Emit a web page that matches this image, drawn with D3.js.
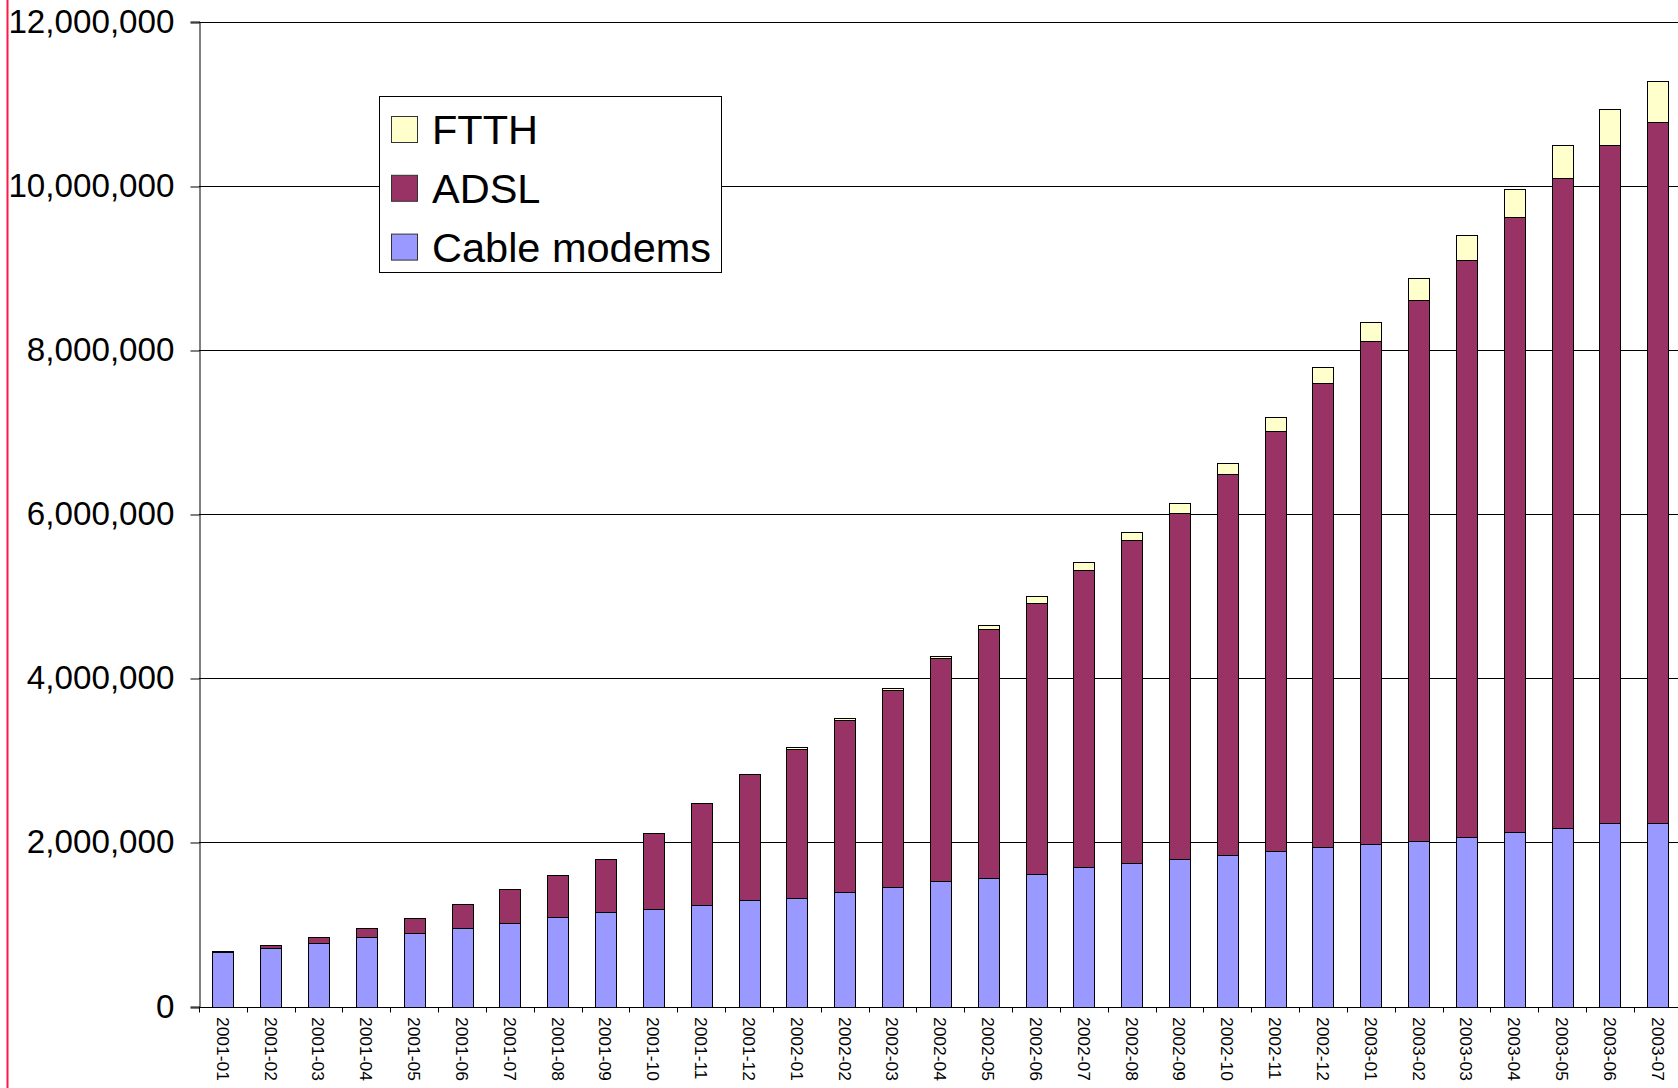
<!DOCTYPE html>
<html>
<head>
<meta charset="utf-8">
<script src="https://cdn.jsdelivr.net/npm/d3@7"></script>
<style>
  html, body { margin: 0; padding: 0; background: #fff; }
  svg { display: block; font-family: "Liberation Sans", Arial, sans-serif; }
</style>
</head>
<body>
<svg id="chart" width="1678" height="1088"></svg>
<script>
// ---- data ----
const months = [
  "2001-01","2001-02","2001-03","2001-04","2001-05","2001-06","2001-07","2001-08","2001-09","2001-10","2001-11","2001-12",
  "2002-01","2002-02","2002-03","2002-04","2002-05","2002-06","2002-07","2002-08","2002-09","2002-10","2002-11","2002-12",
  "2003-01","2003-02","2003-03","2003-04","2003-05","2003-06","2003-07"
];
const cableModems = [
  659000, 711000, 768000, 846000, 898000, 959000, 1012000, 1089000, 1146000, 1187000, 1242000, 1303000,
  1322000, 1395000, 1452000, 1525000, 1565000, 1618000, 1695000, 1752000, 1792000, 1849000, 1889000, 1942000,
  1978000, 2019000, 2060000, 2130000, 2170000, 2230000, 2230000
];
const adsl = [
  16000, 37000, 78000, 113000, 175000, 285000, 423000, 517000, 647000, 931000, 1235000, 1531000,
  1815000, 2095000, 2398000, 2715000, 3035000, 3301000, 3621000, 3929000, 4224000, 4640000, 5123000, 5657000,
  6131000, 6585000, 7029000, 7490000, 7920000, 8260000, 8540000
];
const ftth = [
  0, 0, 0, 0, 0, 0, 0, 0, 0, 0, 0, 0,
  21000, 24000, 25000, 31000, 43000, 85000, 97000, 97000, 118000, 134000, 174000, 191000,
  231000, 266000, 308000, 340000, 400000, 450000, 500000
];
const seriesNames = ["Cable modems", "ADSL", "FTTH"];
const seriesColors = ["#9999FF", "#993366", "#FFFFCC"];
const yTicks = [0, 2000000, 4000000, 6000000, 8000000, 10000000, 12000000];
const legendOrder = ["FTTH", "ADSL", "Cable modems"];

// ---- build ----
(function () {
const svg = d3.select("#chart");
const pLeft = 199, pRight = 1681.7, pTop = 21.5, pBottom = 1006.5;

const table = months.map((m, i) => ({
  month: m, "Cable modems": cableModems[i], "ADSL": adsl[i], "FTTH": ftth[i]
}));
const stacked = d3.stack().keys(seriesNames)(table);

const x = d3.scaleBand().domain(months).range([pLeft, pRight])
  .paddingInner(0.561).paddingOuter(0.2805);
const y = d3.scaleLinear().domain([0, 12000000]).range([pBottom, pTop]);
const color = d3.scaleOrdinal().domain(seriesNames).range(seriesColors);

// red edge line
svg.append("line").attr("x1", 7.5).attr("x2", 7.5).attr("y1", 0).attr("y2", 1088)
  .attr("stroke", "#ff1744").attr("stroke-width", 2);

// gridlines
svg.append("g").selectAll("line").data(yTicks.filter(d => d > 0)).join("line")
  .attr("x1", pLeft).attr("x2", pRight)
  .attr("y1", d => Math.round(y(d)) + 0.5).attr("y2", d => Math.round(y(d)) + 0.5)
  .attr("stroke", "#000").attr("stroke-width", 1);

// y axis
const yAxis = d3.axisLeft(y).tickValues(yTicks).tickSize(9).tickPadding(16)
  .tickFormat(d3.format(","));
const gy = svg.append("g").attr("transform", `translate(${pLeft + 0.5},0)`).call(yAxis);
gy.select(".domain").attr("stroke", "#000");
gy.selectAll(".tick line").attr("stroke", "#000")
  .attr("transform", function(d){ const v = y(d); return `translate(0,${Math.round(v) + 0.5 - v})`; });
gy.selectAll("text").attr("font-size", 33.2).attr("fill", "#000")
  .attr("font-family", "Liberation Sans, Arial, sans-serif");

// bars
svg.append("g").selectAll("g").data(stacked).join("g")
  .attr("fill", d => color(d.key))
  .selectAll("rect").data(d => d.filter(p => p[1] - p[0] > 0)).join("rect")
  .attr("x", d => Math.round(x(d.data.month)) + 0.5)
  .attr("width", Math.round(x.bandwidth()))
  .attr("y", d => Math.round(y(d[1])) + 0.5)
  .attr("height", d => Math.max(0, Math.round(y(d[0])) - Math.round(y(d[1]))))
  .attr("stroke", "#000").attr("stroke-width", 1);

// x axis baseline and boundary ticks
const bline = Math.round(y(0)) + 0.5;
svg.append("line").attr("x1", pLeft).attr("x2", pRight).attr("y1", bline).attr("y2", bline)
  .attr("stroke", "#000");
const step = x.step();
svg.append("g").selectAll("line").data(d3.range(months.length + 1)).join("line")
  .attr("x1", i => Math.round(pLeft + i * step) + 0.5).attr("x2", i => Math.round(pLeft + i * step) + 0.5)
  .attr("y1", bline).attr("y2", bline + 5).attr("stroke", "#000");

// x labels (rotated)
svg.append("g").selectAll("text").data(months).join("text")
  .attr("transform", d => `translate(${x(d) + x.bandwidth() / 2},1017) rotate(90)`)
  .attr("dy", "0.35em").attr("text-anchor", "start")
  .attr("font-size", 17.4).attr("fill", "#000")
  .text(d => d);

// legend
const lg = svg.append("g");
lg.append("rect").attr("x", 379.5).attr("y", 96.5).attr("width", 342).attr("height", 176)
  .attr("fill", "#fff").attr("stroke", "#000");
const rows = lg.selectAll("g").data(legendOrder).join("g")
  .attr("transform", (d, i) => `translate(0,${i * 58.8})`);
rows.append("rect").attr("x", 391.5).attr("y", 116.5).attr("width", 26).attr("height", 26)
  .attr("fill", d => color(d)).attr("stroke", "#333");
rows.append("text").attr("x", 432).attr("y", 144.3).attr("font-size", 41.5).attr("fill", "#000")
  .text(d => d);
})();
</script>
</body>
</html>
